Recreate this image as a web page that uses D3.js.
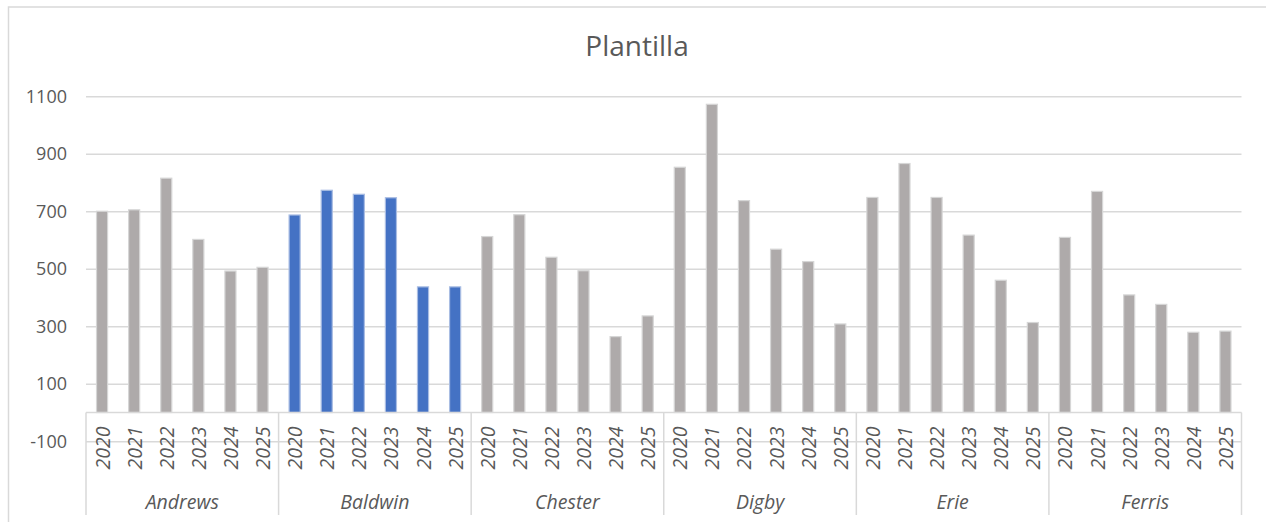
<!DOCTYPE html>
<html>
<head>
<meta charset="utf-8">
<script src="https://cdn.jsdelivr.net/npm/d3@7/dist/d3.min.js"></script>
<style>
  html, body { margin: 0; padding: 0; background: #ffffff; }
  svg { display: block; font-family: "Open Sans", "Liberation Sans", sans-serif; }
</style>
</head>
<body>
<svg id="chart" width="1266" height="522"></svg>
<script>
// Headcount ("Plantilla") per company and year
const companies = ["Andrews", "Baldwin", "Chester", "Digby", "Erie", "Ferris"];
const years = ["2020", "2021", "2022", "2023", "2024", "2025"];
const andrews = [700, 705, 815, 602, 492, 505];
const baldwin = [687, 773, 759, 747, 437, 437];
const chester = [612, 688, 540, 493, 264, 336];
const digby   = [853, 1072, 737, 568, 525, 308];
const erie    = [748, 866, 748, 617, 460, 313];
const ferris  = [609, 769, 409, 376, 279, 283];
const yTicks = [-100, 100, 300, 500, 700, 900, 1100];
const highlighted = "Baldwin";
const chartTitle = "Plantilla";

const seriesByCompany = [andrews, baldwin, chester, digby, erie, ferris];

// Flat list of (company, year, value) rows, one per bar
const rows = [];
companies.forEach((c, i) => {
  years.forEach((y, j) => {
    rows.push({ company: c, year: y, key: c + "|" + y, value: seriesByCompany[i][j] });
  });
});

const svg = d3.select("#chart");
const textColor = "#595959";
const gridColor = "#d9d9d9";

const plot = { left: 86, right: 1241.5, zeroY: 412.5, topY: 96.25 };

// Outer chart frame
svg.append("rect")
  .attr("x", 8.5).attr("y", 7).attr("width", 1300).attr("height", 600)
  .attr("fill", "none").attr("stroke", gridColor).attr("stroke-width", 1.5);

// Title
svg.append("text")
  .attr("x", 637).attr("y", 56)
  .attr("text-anchor", "middle")
  .attr("font-size", 28)
  .attr("fill", textColor)
  .text(chartTitle);

const x = d3.scaleBand()
  .domain(rows.map(d => d.key))
  .range([plot.left, plot.right])
  .paddingInner(0.655)
  .paddingOuter(0.3275);

const y = d3.scaleLinear()
  .domain([0, 1100])
  .range([plot.zeroY, plot.topY]);

// Horizontal gridlines with value labels
const yAxis = d3.axisLeft(y)
  .tickValues(yTicks)
  .tickSize(-(plot.right - plot.left))
  .tickPadding(19)
  .tickFormat(d => String(d));

const gAxis = svg.append("g")
  .attr("transform", `translate(${plot.left},0)`)
  .call(yAxis);
gAxis.select(".domain").remove();
gAxis.selectAll(".tick line")
  .attr("stroke", gridColor).attr("stroke-width", 1.5);
gAxis.selectAll(".tick text")
  .attr("fill", textColor)
  .attr("font-size", 18)
  .attr("font-family", "'Open Sans', sans-serif");

// Bars
svg.append("g")
  .selectAll("rect")
  .data(rows)
  .join("rect")
  .attr("x", d => x(d.key))
  .attr("width", x.bandwidth())
  .attr("y", d => y(d.value))
  .attr("height", d => y(0) - y(d.value))
  .attr("fill", d => d.company === highlighted ? "#4472c4" : "#aeaaaa")
  .attr("stroke", d => d.company === highlighted ? "#a9bde3" : "#d6d6d6")
  .attr("stroke-width", 1.2);

// Two-level category axis: box along the zero line, group dividers
const catBottom = 515;
const axisG = svg.append("g");
axisG.append("line")
  .attr("x1", plot.left).attr("x2", plot.right)
  .attr("y1", plot.zeroY).attr("y2", plot.zeroY)
  .attr("stroke", gridColor).attr("stroke-width", 1.5);

const groupEdges = companies.map(c => x(c + "|" + years[0]) - (x.step() - x.bandwidth()) / 2);
groupEdges.push(plot.right);
axisG.selectAll("line.divider")
  .data(groupEdges)
  .join("line")
  .attr("class", "divider")
  .attr("x1", d => d).attr("x2", d => d)
  .attr("y1", plot.zeroY).attr("y2", catBottom)
  .attr("stroke", gridColor).attr("stroke-width", 1.5);

// Year labels (rotated)
axisG.selectAll("text.year")
  .data(rows)
  .join("text")
  .attr("class", "year")
  .attr("transform", d => `translate(${x(d.key) + x.bandwidth() / 2 + 7.5},448) rotate(-90)`)
  .attr("text-anchor", "middle")
  .attr("font-size", 19.5)
  .attr("font-style", "italic")
  .attr("fill", textColor)
  .text(d => d.year);

// Company labels
axisG.selectAll("text.company")
  .data(companies)
  .join("text")
  .attr("class", "company")
  .attr("x", (c, i) => (groupEdges[i] + groupEdges[i + 1]) / 2)
  .attr("y", 509)
  .attr("text-anchor", "middle")
  .attr("font-size", 19.5)
  .attr("font-style", "italic")
  .attr("fill", textColor)
  .text(c => c);
</script>
</body>
</html>
